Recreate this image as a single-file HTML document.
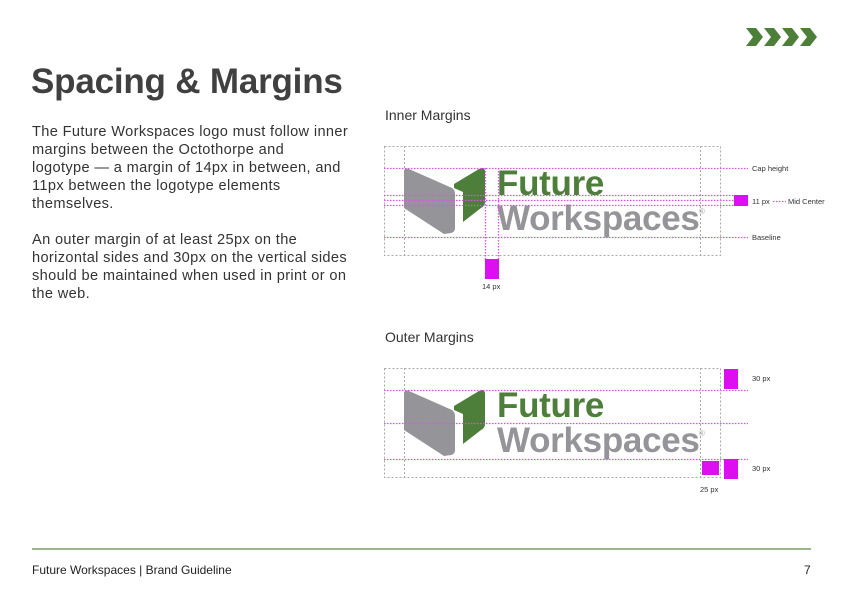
<!DOCTYPE html>
<html><head><meta charset="utf-8"><style>
body{margin:0;width:842px;height:595px;background:#fff;position:relative;overflow:hidden;font-family:"Liberation Sans",sans-serif;color:#3d3d3d}
h1{position:absolute;left:31px;top:62px;margin:0;font-size:35px;font-weight:bold;letter-spacing:-0.2px;color:#404040}
.p{position:absolute;left:32px;width:360px;font-size:14.6px;line-height:18px;color:#333;white-space:nowrap;letter-spacing:0.35px}
.sub{position:absolute;left:385px;font-size:14px;color:#333}
.foot{position:absolute;top:563px;font-size:12px;color:#222}
svg{position:absolute;left:0;top:0}
</style></head><body>
<h1>Spacing &amp; Margins</h1>
<div class="p" style="top:123px">The Future Workspaces logo must follow inner<br>margins between the Octothorpe and<br>logotype — a margin of 14px in between, and<br>11px between the logotype elements<br>themselves.</div>
<div class="p" style="top:231px">An outer margin of at least 25px on the<br>horizontal sides and 30px on the vertical sides<br>should be maintained when used in print or on<br>the web.</div>
<div class="sub" style="top:107px">Inner Margins</div>
<div class="sub" style="top:329px">Outer Margins</div>
<div style="position:absolute;left:32px;top:548px;width:779px;height:1.5px;background:#9bb68c"></div>
<div class="foot" style="left:32px">Future Workspaces | Brand Guideline</div>
<div class="foot" style="left:804px">7</div>
<svg width="842" height="595" viewBox="0 0 842 595">
<defs>
<g id="mark">
<path d="M404,172 Q404,167 409,169 L452,188 Q455,190 455,194 L455,228 Q455,232 451,233 L444,234 L404,208 Z" fill="#949499"/>
<path d="M454,184 L479,169 Q485,166 485,172 L485,202 Q485,206 481,208 L463,222 L463,192 L454,188 Z" fill="#4d7f3a"/>
</g>
</defs>
<g fill="#4d7f3a">
<path d="M746,28 L756,28 L763,37 L756,46 L746,46 L753,37 Z"/>
<path d="M764,28 L774,28 L781,37 L774,46 L764,46 L771,37 Z"/>
<path d="M782,28 L792,28 L799,37 L792,46 L782,46 L789,37 Z"/>
<path d="M800,28 L810,28 L817,37 L810,46 L800,46 L807,37 Z"/>
</g>
<g fill="none" stroke="#aaa" stroke-width="1" stroke-dasharray="2,2">
<rect x="384.5" y="146.5" width="336" height="109"/>
<line x1="404.5" y1="146" x2="404.5" y2="255"/>
<line x1="700.5" y1="146" x2="700.5" y2="255"/>
</g>
<use href="#mark"/>
<text x="497" y="195" font-family="Liberation Sans" font-weight="bold" font-size="35" fill="#4d7f3a" letter-spacing="-0.3">Future</text>
<text x="497" y="230" font-family="Liberation Sans" font-weight="bold" font-size="35" fill="#949499" letter-spacing="-0.3">Workspaces</text>
<text x="699" y="214" font-family="Liberation Sans" font-size="8" fill="#aaa">®</text>
<g fill="none" stroke="#e34cf2" stroke-width="1.3" stroke-dasharray="1.5,1.5">
<line x1="384" y1="168.5" x2="748" y2="168.5"/>
<line x1="384" y1="195.5" x2="734" y2="195.5"/>
<line x1="384" y1="200.5" x2="734" y2="200.5"/>
<line x1="384" y1="205.5" x2="734" y2="205.5"/>
<line x1="384" y1="237.5" x2="748" y2="237.5"/>
<line x1="485.5" y1="168" x2="485.5" y2="259"/>
<line x1="498.5" y1="168" x2="498.5" y2="259"/>
<line x1="773" y1="201.5" x2="786" y2="201.5"/>
</g>
<rect x="485" y="259" width="14" height="20" fill="#dd0ef0"/>
<rect x="734" y="195" width="14" height="11" fill="#dd0ef0"/>
<g font-family="Liberation Sans" font-size="7.5" fill="#333">
<text x="752" y="171">Cap height</text>
<text x="752" y="204">11 px</text>
<text x="788" y="204">Mid Center</text>
<text x="752" y="240">Baseline</text>
<text x="482" y="289">14 px</text>
</g>
<g fill="none" stroke="#aaa" stroke-width="1" stroke-dasharray="2,2">
<rect x="384.5" y="368.5" width="336" height="109"/>
<line x1="404.5" y1="368" x2="404.5" y2="477"/>
<line x1="700.5" y1="368" x2="700.5" y2="477"/>
</g>
<use href="#mark" transform="translate(0,222)"/>
<text x="497" y="417" font-family="Liberation Sans" font-weight="bold" font-size="35" fill="#4d7f3a" letter-spacing="-0.3">Future</text>
<text x="497" y="452" font-family="Liberation Sans" font-weight="bold" font-size="35" fill="#949499" letter-spacing="-0.3">Workspaces</text>
<text x="699" y="436" font-family="Liberation Sans" font-size="8" fill="#aaa">®</text>
<g fill="none" stroke="#e34cf2" stroke-width="1.3" stroke-dasharray="1.5,1.5">
<line x1="384" y1="390.5" x2="748" y2="390.5"/>
<line x1="384" y1="423.5" x2="748" y2="423.5"/>
<line x1="384" y1="459.5" x2="748" y2="459.5"/>
</g>
<rect x="724" y="369" width="14" height="20" fill="#dd0ef0"/>
<rect x="724" y="459" width="14" height="20" fill="#dd0ef0"/>
<rect x="702" y="461" width="17" height="14" fill="#dd0ef0"/>
<g font-family="Liberation Sans" font-size="7.5" fill="#333">
<text x="752" y="381">30 px</text>
<text x="752" y="471">30 px</text>
<text x="700" y="492">25 px</text>
</g>
</svg>
</body></html>
